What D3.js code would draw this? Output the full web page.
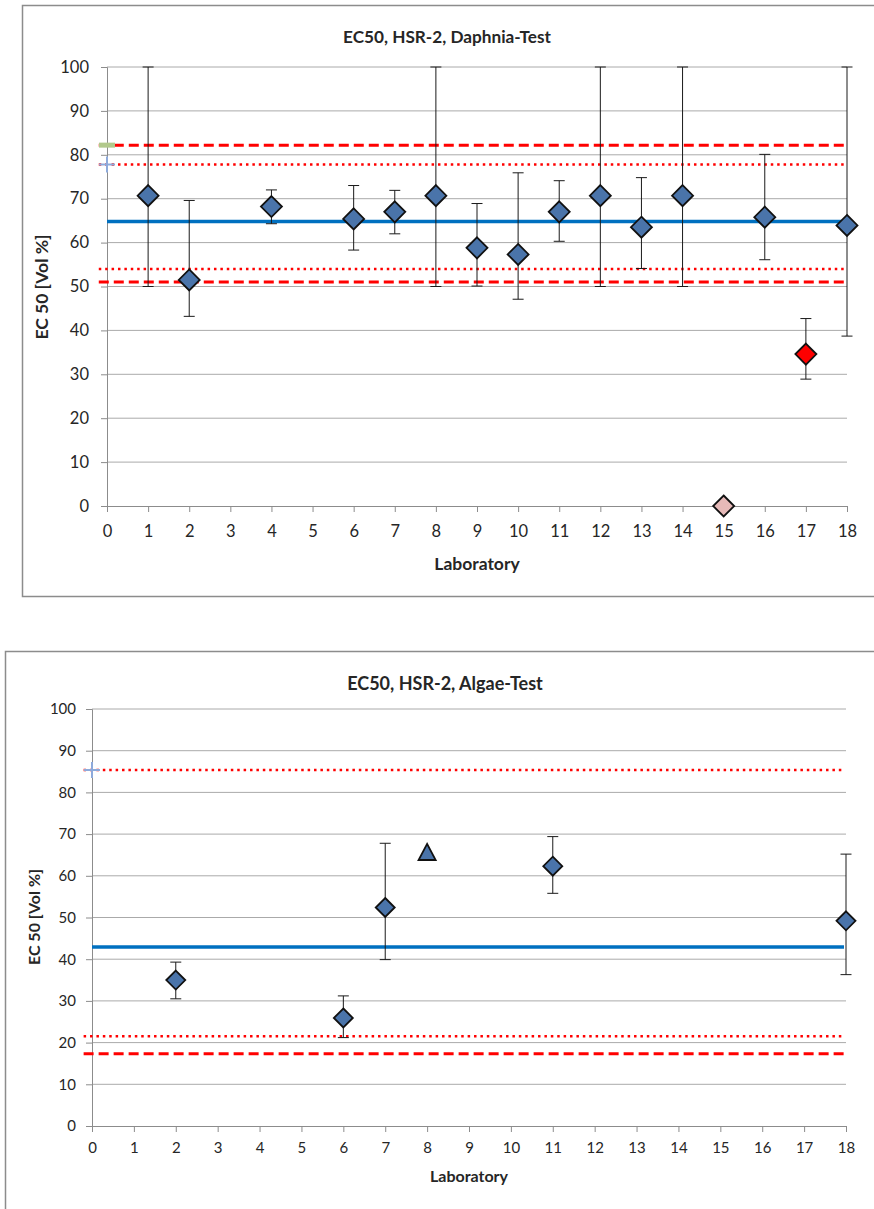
<!DOCTYPE html>
<html>
<head>
<meta charset="utf-8">
<script src="https://cdn.jsdelivr.net/npm/d3@7"></script>
<style>
  body { margin: 0; background: #fff; }
  text { font-family: Lato, "Open Sans", sans-serif; fill: #262626; }
</style>
</head>
<body>
<div id="chart"></div>
<script>
// Daphnia test (upper chart)
var daphniaLabs = [1, 2, 4, 6, 7, 8, 9, 10, 11, 12, 13, 14, 16, 18];
var daphniaEC50 = [70.7, 51.5, 68.2, 65.4, 67.0, 70.7, 58.8, 57.3, 67.0, 70.7, 63.5, 70.7, 65.8, 63.9];
var daphniaLow  = [50.0, 43.2, 64.3, 58.3, 62.0, 50.0, 50.1, 47.1, 60.3, 50.0, 54.1, 50.0, 56.1, 38.7];
var daphniaHigh = [100, 69.6, 72.0, 73.0, 71.9, 100, 68.9, 75.9, 74.1, 100, 74.8, 100, 80.1, 100];
var daphniaOutlierLab = [17];
var daphniaOutlierEC50 = [34.6];
var daphniaOutlierLow = [28.9];
var daphniaOutlierHigh = [42.7];
var daphniaZeroLab = [15];
var daphniaZeroEC50 = [0];
var daphniaMean = 64.8;
var daphniaDashed = [82.2, 51.0];
var daphniaDotted = [77.8, 54.0];

// Algae test (lower chart)
var algaeLabs = [2, 6, 7, 11, 18];
var algaeEC50 = [35.0, 25.9, 52.4, 62.3, 49.2];
var algaeLow  = [30.5, 21.2, 39.9, 55.8, 36.3];
var algaeHigh = [39.3, 31.2, 67.8, 69.4, 65.2];
var algaeTriangleLab = [8];
var algaeTriangleEC50 = [65.5];
var algaeMean = 42.9;
var algaeDashed = [17.3];
var algaeDotted = [85.4, 21.5];

var yTicks = [0, 10, 20, 30, 40, 50, 60, 70, 80, 90, 100];
var xTicks = d3.range(0, 19);

var svg = d3.select("#chart").append("svg")
  .attr("width", 874)
  .attr("height", 1209);

// chart frames
svg.append("rect").attr("x", 22.5).attr("y", 5.5).attr("width", 880).attr("height", 591)
  .attr("fill", "none").attr("stroke", "#8c8c8c").attr("stroke-width", 1.5);
svg.append("rect").attr("x", 5.5).attr("y", 651.5).attr("width", 880).attr("height", 600)
  .attr("fill", "none").attr("stroke", "#8c8c8c").attr("stroke-width", 1.5);

function drawChart(c) {
  var x = d3.scaleLinear().domain([0, 18]).range([c.left, c.right]);
  var y = d3.scaleLinear().domain([0, 100]).range([c.bottom, c.top]);
  var g = svg.append("g");

  // gridlines
  g.selectAll("line.grid").data(yTicks.slice(1)).enter().append("line")
    .attr("class", "grid")
    .attr("x1", c.left).attr("x2", c.right)
    .attr("y1", function(d){ return y(d); }).attr("y2", function(d){ return y(d); })
    .attr("stroke", "#aaaaaa").attr("stroke-width", 1);

  var ya = g.append("g").attr("transform", "translate(" + c.left + ",0)")
    .call(d3.axisLeft(y).tickValues(yTicks).tickSize(6).tickPadding(c.yPad));
  var xa = g.append("g").attr("transform", "translate(0," + c.bottom + ")")
    .call(d3.axisBottom(x).tickValues(xTicks).tickSize(6).tickPadding(c.xPad).tickFormat(d3.format("d")));
  [ya, xa].forEach(function(a){
    a.selectAll("path, line").attr("stroke", "#8c8c8c");
    a.selectAll("text").style("font-size", c.tickFont + "px").attr("fill", "#262626");
  });

  // reference lines
  var refs = [{v: c.mean, color: "#0070c0", w: 3.5, dash: null}];
  c.dashed.forEach(function(v){ refs.push({v: v, color: "#ff0000", w: 3, dash: "10,5"}); });
  c.dotted.forEach(function(v){ refs.push({v: v, color: "#ff0000", w: 2.5, dash: "2.5,3.9"}); });
  g.selectAll("line.ref").data(refs).enter().append("line")
    .attr("class", "ref")
    .attr("x1", function(d){ return d.dash ? x(-0.2) : x(0); }).attr("x2", x(18) - 2)
    .attr("y1", function(d){ return y(d.v); }).attr("y2", function(d){ return y(d.v); })
    .attr("stroke", function(d){ return d.color; })
    .attr("stroke-width", function(d){ return d.w; })
    .attr("stroke-dasharray", function(d){ return d.dash; });

  // small markers at lab 0 for the upper limits
  if (c.greenMark != null) {
    g.append("rect").attr("x", x(0) - 8).attr("y", y(c.greenMark) - 2.5)
      .attr("width", 16).attr("height", 5).attr("fill", "#b2c98c");
  }
  if (c.plusMark != null) {
    g.append("path")
      .attr("d", "M" + (x(0) - 8) + "," + y(c.plusMark) + "h16M" + x(0) + "," + (y(c.plusMark) - 8) + "v16")
      .attr("stroke", "#8eaadb").attr("stroke-width", 2);
  }

  // error bars
  var bars = c.points.filter(function(d){ return d.low != null; });
  var eb = g.selectAll("g.err").data(bars).enter().append("g").attr("class", "err");
  eb.append("line")
    .attr("x1", function(d){ return x(d.lab); }).attr("x2", function(d){ return x(d.lab); })
    .attr("y1", function(d){ return y(d.low); }).attr("y2", function(d){ return y(d.high); })
    .attr("stroke", "#1a1a1a").attr("stroke-width", 1);
  ["low", "high"].forEach(function(k){
    eb.append("line")
      .attr("x1", function(d){ return x(d.lab) - 5.5; }).attr("x2", function(d){ return x(d.lab) + 5.5; })
      .attr("y1", function(d){ return y(d[k]); }).attr("y2", function(d){ return y(d[k]); })
      .attr("stroke", "#1a1a1a").attr("stroke-width", 1);
  });

  // markers
  g.selectAll("path.pt").data(c.points).enter().append("path")
    .attr("class", "pt")
    .attr("transform", function(d){ return "translate(" + x(d.lab) + "," + y(d.v) + ")"; })
    .attr("d", function(d){
      var s = c.size;
      if (d.shape == "tri") return "M0," + (-s * 0.95) + "L" + (s * 0.9) + "," + (s * 0.75) + "L" + (-s * 0.9) + "," + (s * 0.75) + "Z";
      return "M0," + (-s) + "L" + s + ",0L0," + s + "L" + (-s) + ",0Z";
    })
    .attr("fill", function(d){ return d.fill; })
    .attr("stroke", "#111").attr("stroke-width", 1.8);

  // texts
  g.append("text").attr("x", c.titleX).attr("y", c.titleY)
    .attr("text-anchor", "middle").style("font-size", c.titleFont + "px").style("font-weight", "bold")
    .text(c.title);
  g.append("text").attr("x", c.xlabX).attr("y", c.xlabY)
    .attr("text-anchor", "middle").style("font-size", c.labFont + "px").style("font-weight", "bold")
    .text("Laboratory");
  g.append("text").attr("transform", "translate(" + c.ylabX + "," + c.ylabY + ") rotate(-90)")
    .attr("text-anchor", "middle").style("font-size", c.labFont + "px").style("font-weight", "bold")
    .text("EC 50 [Vol %]");
}

var daphniaPoints = daphniaLabs.map(function(l, i){
  return {lab: l, v: daphniaEC50[i], low: daphniaLow[i], high: daphniaHigh[i], fill: "#4a74aa"};
});
daphniaOutlierLab.forEach(function(l, i){
  daphniaPoints.push({lab: l, v: daphniaOutlierEC50[i], low: daphniaOutlierLow[i], high: daphniaOutlierHigh[i], fill: "#ff0000"});
});
daphniaZeroLab.forEach(function(l, i){
  daphniaPoints.push({lab: l, v: daphniaZeroEC50[i], low: null, high: null, fill: "#e6b9b8"});
});

var algaePoints = algaeLabs.map(function(l, i){
  return {lab: l, v: algaeEC50[i], low: algaeLow[i], high: algaeHigh[i], fill: "#4a74aa"};
});
algaeTriangleLab.forEach(function(l, i){
  algaePoints.push({lab: l, v: algaeTriangleEC50[i], low: null, high: null, fill: "#4a74aa", shape: "tri"});
});

drawChart({
  left: 107, right: 847, top: 67, bottom: 506,
  yPad: 12, xPad: 13, tickFont: 16.5, size: 10.5,
  points: daphniaPoints, mean: daphniaMean, dashed: daphniaDashed, dotted: daphniaDotted,
  greenMark: daphniaDashed[0], plusMark: daphniaDotted[0],
  title: "EC50, HSR-2, Daphnia-Test", titleX: 447, titleY: 43, titleFont: 17.2,
  xlabX: 477, xlabY: 570, ylabX: 48, ylabY: 287, labFont: 17.5
});

drawChart({
  left: 92, right: 846, top: 709, bottom: 1126,
  yPad: 10, xPad: 10, tickFont: 15, size: 9.5,
  points: algaePoints, mean: algaeMean, dashed: algaeDashed, dotted: algaeDotted,
  greenMark: null, plusMark: algaeDotted[0],
  title: "EC50, HSR-2, Algae-Test", titleX: 445, titleY: 690, titleFont: 18,
  xlabX: 469, xlabY: 1182, ylabX: 40, ylabY: 917, labFont: 16
});
</script>
</body>
</html>
